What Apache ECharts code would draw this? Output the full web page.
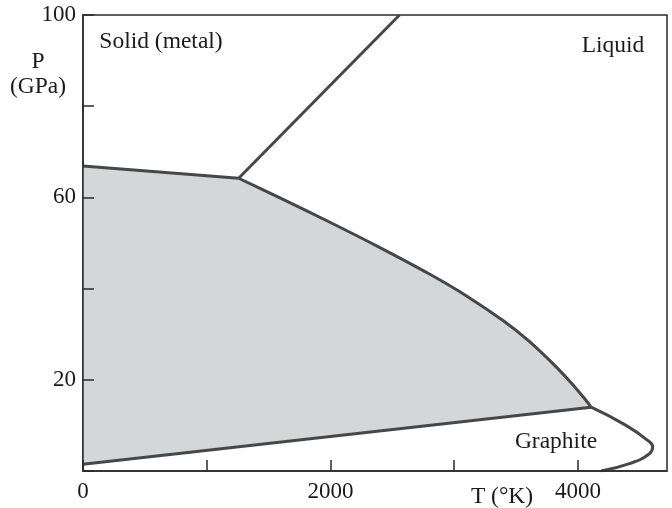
<!DOCTYPE html>
<html>
<head>
<meta charset="utf-8">
<script src="https://cdn.jsdelivr.net/npm/echarts@6/dist/echarts.min.js"></script>
<style>
html,body{margin:0;padding:0;background:#fff;}
#chart{width:672px;height:508px;}
</style>
</head>
<body>
<div id="chart"></div>
<script>
// T (K), P (GPa)
const metalDiamond = [[0, 66.9], [1258, 64.2]];
const metalLiquid = [[1258, 64.2], [2558, 100]];
const diamondLiquid = [[1258, 64.2], [1600, 59.8], [2000, 54.5], [2400, 49.0], [2800, 43.2], [3100, 38.4], [3400, 32.9], [3600, 28.6], [3800, 23.5], [3950, 19.2], [4050, 16.0], [4107, 14.0]];
const graphiteDiamond = [[0, 1.5], [4107, 14.0]];
const graphiteLiquid = [[4107, 14.0], [4389, 10.0], [4564, 6.7], [4604, 5.3], [4578, 3.8], [4416, 1.6], [4187, 0]];
const xTickLabels = [0, 2000, 4000];
const yTickLabels = [20, 60, 100];
const regionLabels = ['Solid (metal)', 'Liquid', 'Diamond', 'Graphite'];

const diamondPolygon = [].concat(metalDiamond, diamondLiquid.slice(1), graphiteDiamond.slice().reverse());

const FONT = 'Liberation Serif';
const LINE = '#474747';
const AX = '#2a2a2a';
const TXT = '#1a1a1a';

function boundary(data, smooth) {
  return {
    type: 'line', data: data, smooth: smooth || false, symbol: 'none', z: 3,
    lineStyle: { color: LINE, width: 3 }, silent: true
  };
}
function label(text, x, y) {
  return { type: 'text', x: x, y: y, style: { text: text, font: '23.5px "' + FONT + '"', fill: TXT, align: 'center', verticalAlign: 'middle' } };
}

const chart = echarts.init(document.getElementById('chart'), null, { renderer: 'canvas' });
chart.setOption({
  animation: false,
  backgroundColor: '#fff',
  grid: { left: 83, right: 5, top: 15, bottom: 37, show: true, borderColor: AX, borderWidth: 1.5, backgroundColor: 'transparent' },
  xAxis: {
    type: 'value', min: 0, max: 4720, interval: 1000, z: 10,
    axisLine: { show: true, onZero: false, lineStyle: { color: AX, width: 1.5 } },
    axisTick: { show: true, inside: true, length: 11, lineStyle: { color: AX, width: 1.5 } },
    splitLine: { show: false },
    axisLabel: {
      margin: 9, fontFamily: FONT, fontSize: 23, color: TXT, showMaxLabel: false,
      formatter: v => xTickLabels.indexOf(v) >= 0 ? String(v) : ''
    }
  },
  yAxis: {
    type: 'value', min: 0, max: 100, interval: 20, z: 10,
    axisLine: { show: true, onZero: false, lineStyle: { color: AX, width: 1.5 } },
    axisTick: { show: true, inside: true, length: 11, lineStyle: { color: AX, width: 1.5 } },
    splitLine: { show: false },
    axisLabel: {
      margin: 7, fontFamily: FONT, fontSize: 23, color: TXT,
      formatter: v => yTickLabels.indexOf(v) >= 0 ? String(v) : ''
    }
  },
  series: [
    {
      type: 'custom', z: 1, silent: true,
      data: [diamondPolygon[0]],
      renderItem: function (params, api) {
        const pts = diamondPolygon.map(p => api.coord(p));
        return { type: 'polygon', shape: { points: pts, smooth: 0 }, style: { fill: '#d5d6d8' } };
      }
    },
    boundary(metalDiamond),
    boundary(metalLiquid),
    boundary(diamondLiquid, 0.3),
    boundary(graphiteDiamond),
    boundary(graphiteLiquid, 0.5)
  ],
  graphic: [
    label(regionLabels[0], 161, 42),
    label(regionLabels[1], 613, 46),
    label(regionLabels[2], 265, 315),
    label(regionLabels[3], 556, 442),
    label('P', 38, 62),
    label('(GPa)', 38, 87),
    label('T (°K)', 502, 497)
  ]
});
</script>
</body>
</html>
